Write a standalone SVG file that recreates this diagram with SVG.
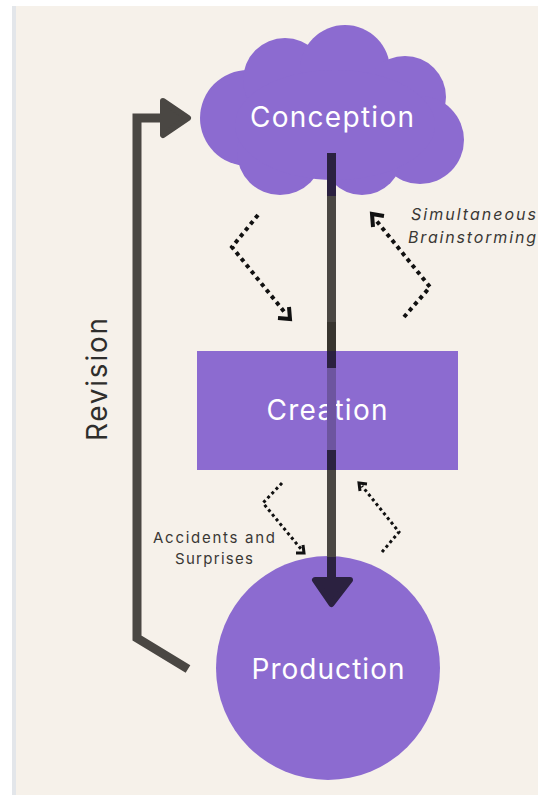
<svg xmlns="http://www.w3.org/2000/svg" width="538" height="795" viewBox="0 0 538 795">
  <style>
    .node { fill: #8c6bd0; }
    .label { font-family: Inter, "Open Sans", "Liberation Sans", sans-serif; fill: #ffffff; font-size: 28px; text-anchor: middle; }
    .note { font-family: Inter, "Open Sans", "Liberation Sans", sans-serif; fill: #3a3835; }
    .dots { fill: none; stroke: #111; stroke-linecap: butt; }
    .head { fill: none; stroke: #111; stroke-linejoin: miter; }
    .thick { fill: none; stroke: #4a4743; stroke-width: 9; }
  </style>
  <rect x="0" y="0" width="538" height="795" fill="#ffffff"/>
  <rect x="12" y="6" width="526" height="789" fill="#f6f1ea"/>
  <rect x="12" y="6" width="4" height="789" fill="#e3e6ea"/>

  <g id="conception">
    <circle class="node" cx="248" cy="118" r="48"/>
    <circle class="node" cx="285" cy="80" r="42"/>
    <circle class="node" cx="345" cy="70" r="45"/>
    <circle class="node" cx="405" cy="97" r="41"/>
    <circle class="node" cx="420" cy="140" r="44"/>
    <circle class="node" cx="362" cy="155" r="40"/>
    <circle class="node" cx="280" cy="152" r="43"/>
    <ellipse class="node" cx="335" cy="125" rx="100" ry="55"/>
    <text class="label" x="332" y="127" textLength="164" lengthAdjust="spacing">Conception</text>
  </g>

  <g id="creation">
    <rect class="node" x="197" y="351" width="261" height="119"/>
    <text class="label" x="327" y="420" textLength="121" lengthAdjust="spacing">Creation</text>
  </g>

  <g id="production">
    <circle class="node" cx="328" cy="668" r="112"/>
    <text class="label" x="328" y="679" textLength="153" lengthAdjust="spacing">Production</text>
  </g>

  <g id="connectors">
    <!-- central arrow Conception -> Production -->
    <rect x="327" y="153" width="9" height="425" fill="#4a4743"/>
    <rect x="327" y="322" width="9" height="29" fill="#38352f"/>
    <rect x="327" y="153" width="9" height="43" fill="#2b2140"/>
    <rect x="327" y="351" width="9" height="17" fill="#2b2140"/>
    <rect x="327" y="368" width="9" height="82" fill="#6d559f"/>
    <rect x="327" y="450" width="9" height="20" fill="#2b2140"/>
    <rect x="327" y="557" width="9" height="22" fill="#2b2140"/>
    <path d="M315,580 L350,580 L331.5,604 Z" fill="#2b2140" stroke="#2b2140" stroke-width="6" stroke-linejoin="round"/>

    <!-- Revision loop -->
    <path class="thick" d="M188,669 L137,638 L137,118 L162,118"/>
    <path d="M163,101 L188,118 L163,135 Z" fill="#4a4743" stroke="#4a4743" stroke-width="6" stroke-linejoin="round"/>

    <!-- dotted: conception <-> creation -->
    <polyline class="dots" stroke-width="4" stroke-dasharray="4 4" points="258,215 232,247 286,314"/>
    <polyline class="head" stroke-width="4" points="278,318 290,319 289,307"/>
    <polyline class="dots" stroke-width="4" stroke-dasharray="4 4" points="404,317 430,287 375,219"/>
    <polyline class="head" stroke-width="4" points="373,227 372,214 384,216"/>

    <!-- dotted: creation <-> production -->
    <polyline class="dots" stroke-width="3" stroke-dasharray="3 3" points="282,483 263,503 301,549"/>
    <polyline class="head" stroke-width="3" points="296,553 304,553 303,545"/>
    <polyline class="dots" stroke-width="3" stroke-dasharray="3 3" points="382,552 399,532 362,486"/>
    <polyline class="head" stroke-width="3" points="360,491 359,483 367,484"/>
  </g>

  <text class="note" x="107" y="441" transform="rotate(-90 107 441)" font-size="28" textLength="123" lengthAdjust="spacing" style="fill:#2f2e2c">Revision</text>
  <text class="note" x="411" y="220" font-size="16" font-style="italic" textLength="125" lengthAdjust="spacing">Simultaneous</text>
  <text class="note" x="408" y="243" font-size="16" font-style="italic" textLength="128" lengthAdjust="spacing">Brainstorming</text>
  <text class="note" x="214" y="543" font-size="15" text-anchor="middle" textLength="122" lengthAdjust="spacing">Accidents and</text>
  <text class="note" x="214" y="564" font-size="15" text-anchor="middle" textLength="78" lengthAdjust="spacing">Surprises</text>
</svg>
